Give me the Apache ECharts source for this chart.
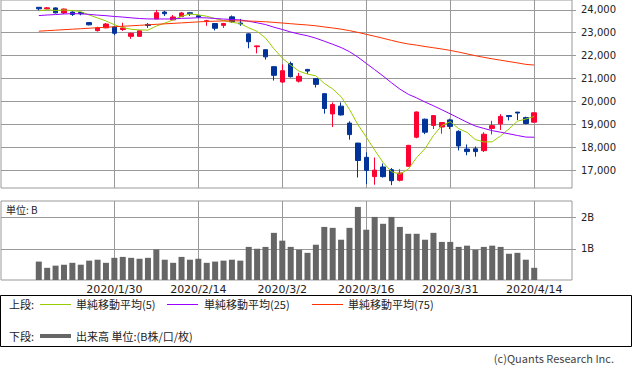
<!DOCTYPE html>
<html><head><meta charset="utf-8">
<script src="https://cdn.jsdelivr.net/npm/echarts@6/dist/echarts.min.js"></script>
<style>html,body{margin:0;padding:0;background:#fff}#c{width:633px;height:372px}</style>
</head><body><div id="c"></div>
<script>
const dates = ['2020/1/17','2020/1/20','2020/1/21','2020/1/22','2020/1/23','2020/1/24','2020/1/27','2020/1/28','2020/1/29','2020/1/30','2020/1/31','2020/2/3','2020/2/4','2020/2/5','2020/2/6','2020/2/7','2020/2/10','2020/2/12','2020/2/13','2020/2/14','2020/2/17','2020/2/18','2020/2/19','2020/2/20','2020/2/21','2020/2/25','2020/2/26','2020/2/27','2020/2/28','2020/3/2','2020/3/3','2020/3/4','2020/3/5','2020/3/6','2020/3/9','2020/3/10','2020/3/11','2020/3/12','2020/3/13','2020/3/16','2020/3/17','2020/3/18','2020/3/19','2020/3/23','2020/3/24','2020/3/25','2020/3/26','2020/3/27','2020/3/30','2020/3/31','2020/4/1','2020/4/2','2020/4/3','2020/4/6','2020/4/7','2020/4/8','2020/4/9','2020/4/10','2020/4/13','2020/4/14'];
const openP = [24107,24040,24080,23860,23900,23880,23440,23090,23210,23250,23140,22840,22840,23360,23600,23900,23560,23700,23870,23740,23490,23400,23320,23690,23420,22950,22390,22260,21520,20850,21660,20890,21400,21000,20343,19460,19800,19060,18190,17570,16730,17150,17030,16570,17180,18446,19230,18960,18890,19200,18700,17930,17940,17860,18830,19030,19390,19540,19300,19100];
const closeP = [24041,24083,23864,24031,23795,23827,23343,23215,23379,22977,23205,22971,23084,23319,23873,23827,23685,23861,23827,23687,23523,23193,23400,23479,23386,22605,22426,21948,21142,21344,21082,21100,21329,20749,19698,19867,19416,18559,17431,17002,17011,16726,16552,16887,18092,19546,18664,19389,19084,18917,18065,17819,17820,18576,18950,19353,19345,19499,19043,19510];
const lowP = [23969,24020,23840,23820,23730,23760,23320,23050,23200,22892,23080,22735,22830,23210,23590,23730,23550,23690,23730,23630,23300,23100,23210,23430,23300,22320,22100,21830,20916,20820,21050,20830,21210,20613,19472,18891,19390,18340,16690,16400,16378,16690,16358,16520,17160,18400,18580,18800,18600,18800,17870,17660,17600,17800,18570,18760,19180,19190,19010,19090];
const highP = [24116,24120,24100,24050,23930,23900,23450,23260,23420,23280,23430,23000,23090,23420,23995,23950,23770,23905,23900,23750,23560,23410,23430,23750,23600,22970,22440,22270,21540,21620,21740,21250,21420,21010,20350,19960,19960,19140,18200,17790,17560,17300,17100,17050,18110,19564,19260,19410,19100,19250,18750,18130,18040,18660,19160,19450,19400,19540,19340,19520];
const volumeB = [0.59,0.39,0.46,0.49,0.55,0.49,0.62,0.65,0.55,0.71,0.74,0.71,0.68,0.71,0.98,0.65,0.55,0.74,0.65,0.68,0.55,0.59,0.62,0.65,0.62,1.06,1.00,1.06,1.51,1.26,1.06,0.97,0.87,1.13,1.70,1.67,1.29,1.67,2.34,1.61,2.02,1.80,2.02,1.70,1.48,1.48,1.29,1.51,1.22,1.22,1.06,1.10,0.97,1.06,1.10,1.06,0.84,0.87,0.65,0.39];
const ma5 = [23953,24000,23968,23990,23963,23920,23772,23642,23512,23348,23224,23149,23123,23111,23290,23415,23558,23713,23815,23777,23717,23618,23526,23456,23396,23213,23059,22769,22301,21893,21588,21323,21199,21121,20792,20549,20212,19658,18994,18455,17884,17346,16944,16836,17054,17561,17948,18516,18955,19120,18824,18655,18341,18239,18246,18504,18809,19145,19238,19350];
const ma25 = [23746,23772,23791,23816,23831,23823,23799,23765,23742,23707,23682,23648,23619,23600,23598,23598,23599,23625,23635,23654,23646,23619,23594,23577,23555,23498,23431,23355,23239,23141,23031,22942,22866,22761,22630,22496,22354,22173,21937,21663,21390,21112,20819,20542,20318,20159,19978,19817,19641,19463,19281,19097,18932,18829,18733,18664,18594,18521,18452,18445];
const ma75 = [23068,23089,23110,23132,23153,23174,23195,23216,23238,23259,23280,23301,23322,23344,23365,23386,23407,23428,23450,23471,23490,23503,23512,23516,23515,23508,23495,23476,23451,23422,23392,23362,23335,23300,23252,23206,23154,23091,23013,22929,22845,22757,22666,22579,22509,22459,22397,22345,22289,22229,22157,22077,21997,21927,21862,21802,21742,21684,21620,21590];
const xTickLabels = ['2020/1/30','2020/2/14','2020/3/2','2020/3/16','2020/3/31','2020/4/14'];
const priceTicks = [17000,18000,19000,20000,21000,22000,23000,24000];
const volumeTicks = [1,2];

const PAD_BEFORE = 4, PAD_AFTER = 4;
const cats = [];
for (let i = 0; i < PAD_BEFORE; i++) cats.push('pre' + i);
dates.forEach(d => cats.push(d));
for (let i = 0; i < PAD_AFTER; i++) cats.push('post' + i);
const pad = arr => Array(PAD_BEFORE).fill('-').concat(arr, Array(PAD_AFTER).fill('-'));
const candles = dates.map((d, i) => [PAD_BEFORE + i, openP[i], closeP[i], lowP[i], highP[i]]);

const GRID = '#999999';
const UP = '#ff0033', DOWN = '#003399';
const C5 = '#99cc00', C25 = '#9900ff', C75 = '#ff3300';
const isLabelCat = (i, v) => xTickLabels.indexOf(v) >= 0;
const cjk = '"Noto Sans CJK JP", sans-serif';

const chart = echarts.init(document.getElementById('c'), null, {renderer: 'svg'});
chart.setOption({
  animation: false,
  grid: [
    {left: 1, right: 61, top: -1, height: 189, show: true, borderColor: GRID, borderWidth: 1},
    {left: 1, right: 61, top: 201, height: 79, show: true, borderColor: GRID, borderWidth: 1}
  ],
  xAxis: [
    {gridIndex: 0, type: 'category', data: cats, boundaryGap: true,
     axisLine: {show: false}, axisTick: {show: false}, axisLabel: {show: false},
     splitLine: {show: true, alignWithLabel: true, interval: isLabelCat, lineStyle: {color: GRID, width: 1}}},
    {gridIndex: 1, type: 'category', data: cats, boundaryGap: true,
     axisLine: {show: false}, axisTick: {show: false},
     axisLabel: {show: true, interval: isLabelCat, fontFamily: 'DejaVu Sans', fontSize: 11, color: '#222', margin: 4},
     splitLine: {show: true, alignWithLabel: true, interval: isLabelCat, lineStyle: {color: GRID, width: 1}}}
  ],
  yAxis: [
    {gridIndex: 0, type: 'value', position: 'right', min: 16233, max: 24425,
     axisLine: {show: false},
     axisTick: {show: true, customValues: priceTicks, length: 4, lineStyle: {color: GRID}},
     axisLabel: {customValues: priceTicks, formatter: v => Number(v).toLocaleString('en-US'),
                 fontFamily: 'DejaVu Sans', fontSize: 10, color: '#222', margin: 9},
     splitLine: {show: true, lineStyle: {color: GRID, width: 1}}},
    {gridIndex: 1, type: 'value', position: 'right', min: 0, max: 2.53,
     axisLine: {show: false},
     axisTick: {show: true, customValues: volumeTicks, length: 4, lineStyle: {color: GRID}},
     axisLabel: {customValues: volumeTicks, formatter: v => v + 'B',
                 fontFamily: 'DejaVu Sans', fontSize: 10, color: '#222', margin: 9},
     splitLine: {show: true, lineStyle: {color: GRID, width: 1}}}
  ],
  series: [
    {type: 'candlestick', name: 'price', xAxisIndex: 0, yAxisIndex: 0, data: candles,
     encode: {x: 0, y: [1, 2, 3, 4]}, barWidth: 5,
     itemStyle: {color: UP, color0: DOWN, borderColor: UP, borderColor0: DOWN, borderWidth: 1}},
    {type: 'line', name: '単純移動平均(5)', xAxisIndex: 0, yAxisIndex: 0, data: pad(ma5),
     symbol: 'none', lineStyle: {color: C5, width: 1}, z: 3},
    {type: 'line', name: '単純移動平均(25)', xAxisIndex: 0, yAxisIndex: 0, data: pad(ma25),
     symbol: 'none', lineStyle: {color: C25, width: 1}, z: 3},
    {type: 'line', name: '単純移動平均(75)', xAxisIndex: 0, yAxisIndex: 0, data: pad(ma75),
     symbol: 'none', lineStyle: {color: C75, width: 1}, z: 3},
    {type: 'bar', name: '出来高', xAxisIndex: 1, yAxisIndex: 1, data: pad(volumeB),
     barWidth: 6, itemStyle: {color: '#666666'}}
  ],
  graphic: [
    {type: 'text', left: 6, top: 204, style: {text: '単位: B', font: '10px ' + cjk, fill: '#222'}},
    {type: 'rect', shape: {x: 0.5, y: 295.5, width: 631, height: 51}, style: {fill: 'none', stroke: '#000', lineWidth: 1}},
    {type: 'text', x: 9, y: 304, style: {text: '上段:', font: '11px ' + cjk, fill: '#222', verticalAlign: 'middle'}},
    {type: 'line', shape: {x1: 40, y1: 304.5, x2: 71, y2: 304.5}, style: {stroke: C5, lineWidth: 1}},
    {type: 'text', x: 76, y: 304, style: {text: '単純移動平均(5)', font: '11px ' + cjk, fill: '#222', verticalAlign: 'middle'}},
    {type: 'line', shape: {x1: 167, y1: 304.5, x2: 198, y2: 304.5}, style: {stroke: C25, lineWidth: 1}},
    {type: 'text', x: 204, y: 304, style: {text: '単純移動平均(25)', font: '11px ' + cjk, fill: '#222', verticalAlign: 'middle'}},
    {type: 'line', shape: {x1: 312, y1: 304.5, x2: 343, y2: 304.5}, style: {stroke: C75, lineWidth: 1}},
    {type: 'text', x: 348, y: 304, style: {text: '単純移動平均(75)', font: '11px ' + cjk, fill: '#222', verticalAlign: 'middle'}},
    {type: 'text', x: 9, y: 336, style: {text: '下段:', font: '11px ' + cjk, fill: '#222', verticalAlign: 'middle'}},
    {type: 'line', shape: {x1: 40, y1: 336, x2: 71, y2: 336}, style: {stroke: '#666666', lineWidth: 4}},
    {type: 'text', x: 76, y: 336, style: {text: '出来高 単位:(B株/口/枚)', font: '11px ' + cjk, fill: '#222', verticalAlign: 'middle'}},
    {type: 'text', x: 614, y: 358, style: {text: '(c)Quants Research Inc.', font: '11px ' + cjk, fill: '#444', align: 'right', verticalAlign: 'middle'}}
  ]
});
</script>
</body></html>
